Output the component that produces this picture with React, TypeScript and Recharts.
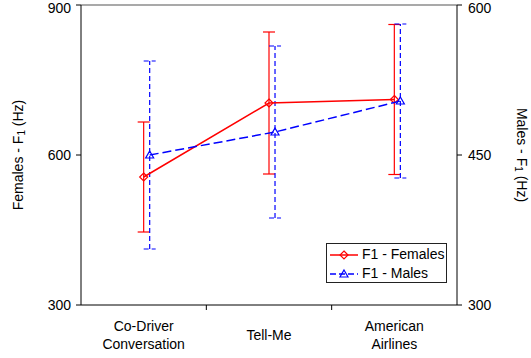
import React from "react";
import {
  ScatterChart,
  Scatter,
  XAxis,
  YAxis,
  ErrorBar,
  Legend,
  ReferenceLine,
} from "recharts";

const categories = ["Co-Driver\nConversation", "Tell-Me", "American\nAirlines"];
const femaleF1 = [556, 704, 711];
const femaleErr = [110, 142, 150];
const maleF1 = [450, 473, 504];
const maleErr = [94, 86, 77];

const leftTicks = [300, 600, 900];
const rightTicks = [300, 450, 600];

const FONT = '"Liberation Sans", Arial, sans-serif';
const RED = "#ff0000";
const BLUE = "#0000ff";
const MALE_SHIFT = 0.048; // males drawn a little right of the category centre

const femaleData = categories.map((c, i) => ({ x: i, y: femaleF1[i], err: femaleErr[i] }));
const maleData = categories.map((c, i) => ({ x: i + MALE_SHIFT, y: maleF1[i], err: maleErr[i] }));

function Diamond({ cx, cy }: any) {
  const r = 4;
  return (
    <path
      d={`M${cx},${cy - r}L${cx + r},${cy}L${cx},${cy + r}L${cx - r},${cy}Z`}
      fill="none"
      stroke={RED}
      strokeWidth={1.2}
    />
  );
}

function Triangle({ cx, cy }: any) {
  return (
    <path
      d={`M${cx},${cy - 4}L${cx + 4},${cy + 3}L${cx - 4},${cy + 3}Z`}
      fill="none"
      stroke={BLUE}
      strokeWidth={1.2}
    />
  );
}

function CatTick({ x, y, payload }: any) {
  const v = payload.value;
  if (!Number.isInteger(v)) {
    return <line x1={x} x2={x} y1={y} y2={y + 5} stroke="#000" />;
  }
  const lines = categories[v].split("\n");
  const first = lines.length === 1 ? y + 35 : y + 26;
  return (
    <text x={x} textAnchor="middle" fontSize={14} fill="#000" fontFamily={FONT}>
      {lines.map((l, i) => (
        <tspan key={i} x={x} y={first + i * 18}>
          {l}
        </tspan>
      ))}
    </text>
  );
}

function AxisTitle({ viewBox, name, side }: any) {
  const { x, y, width, height } = viewBox;
  const cy = y + height / 2;
  const cx = side === "left" ? x + 18 : x + width - 9;
  const angle = side === "left" ? -90 : 90;
  return (
    <text
      x={cx}
      y={cy}
      transform={`rotate(${angle}, ${cx}, ${cy})`}
      textAnchor="middle"
      dominantBaseline="central"
      fontSize={14}
      fill="#000"
      fontFamily={FONT}
    >
      <tspan>{name} - F</tspan>
      <tspan fontSize={10} dy={3}>1</tspan>
      <tspan dy={-3}> (Hz)</tspan>
    </text>
  );
}

function LegendBox() {
  const rows = [
    { label: "F1 - Females", color: RED, dash: undefined, mark: <Diamond cx={14} cy={7} /> },
    { label: "F1 - Males", color: BLUE, dash: "6 3", mark: <Triangle cx={14} cy={7} /> },
  ];
  return (
    <div
      style={{
        boxSizing: "border-box",
        width: 121,
        height: 40,
        border: "1px solid #222",
        background: "#fff",
        fontFamily: FONT,
        fontSize: 14,
        lineHeight: "19px",
        paddingTop: 1,
        whiteSpace: "nowrap",
      }}
    >
      {rows.map((r) => (
        <div key={r.label} style={{ display: "flex", alignItems: "center", height: 19 }}>
          <svg width={29} height={14} style={{ marginLeft: 3, flex: "none" }}>
            <line x1={0} x2={28} y1={7} y2={7} stroke={r.color} strokeWidth={1.5} strokeDasharray={r.dash} />
            {r.mark}
          </svg>
          <span style={{ marginLeft: 3, color: "#000" }}>{r.label}</span>
        </div>
      ))}
    </div>
  );
}

export default function App() {
  return (
    <div style={{ position: "absolute", left: 0, top: 0, background: "#fff" }}>
      <ScatterChart
        width={531}
        height={358}
        margin={{ top: 5, right: 0, bottom: 0, left: 0 }}
        style={{ fontFamily: FONT }}
      >
        <XAxis
          type="number"
          dataKey="x"
          domain={[-0.5, 2.5]}
          ticks={[0, 0.5, 1, 1.5, 2]}
          interval={0}
          height={53}
          tickSize={0}
          tickMargin={0}
          tickLine={false}
          tick={<CatTick />}
          axisLine={{ stroke: "#000" }}
        />
        <YAxis
          yAxisId="left"
          type="number"
          dataKey="y"
          domain={[300, 900]}
          ticks={leftTicks}
          width={81}
          tickSize={5}
          tickMargin={5}
          axisLine={{ stroke: "#000" }}
          tickLine={{ stroke: "#000" }}
          tick={{ fontSize: 14, fill: "#000", fontFamily: FONT }}
          label={<AxisTitle name="Females" side="left" />}
        />
        <YAxis
          yAxisId="right"
          orientation="right"
          type="number"
          dataKey="y"
          domain={[300, 600]}
          ticks={rightTicks}
          width={74}
          tickSize={5}
          tickMargin={6}
          axisLine={{ stroke: "#000" }}
          tickLine={{ stroke: "#000" }}
          tick={{ fontSize: 14, fill: "#000", fontFamily: FONT, textAnchor: "start" }}
          label={<AxisTitle name="Males" side="right" />}
        />
        <ReferenceLine yAxisId="left" y={900} stroke="#8c8c8c" strokeWidth={1.5} />
        <Scatter
          name="F1 - Females"
          yAxisId="left"
          data={femaleData}
          line={{ stroke: RED, strokeWidth: 1.5 }}
          lineType="joint"
          shape={<Diamond />}
          isAnimationActive={false}
        >
          <ErrorBar dataKey="err" direction="y" width={6} stroke={RED} strokeWidth={1.2} />
        </Scatter>
        <Scatter
          name="F1 - Males"
          yAxisId="right"
          data={maleData}
          line={{ stroke: BLUE, strokeWidth: 1.5, strokeDasharray: "9 4" }}
          lineType="joint"
          shape={<Triangle />}
          isAnimationActive={false}
        >
          <ErrorBar
            dataKey="err"
            direction="y"
            width={6}
            stroke={BLUE}
            strokeWidth={1.2}
            strokeDasharray="5 3"
          />
        </Scatter>
        <Legend
          layout="vertical"
          align="center"
          verticalAlign="middle"
          content={<LegendBox />}
          wrapperStyle={{ left: 326, top: 243, width: 121, height: 40 }}
        />
      </ScatterChart>
    </div>
  );
}
